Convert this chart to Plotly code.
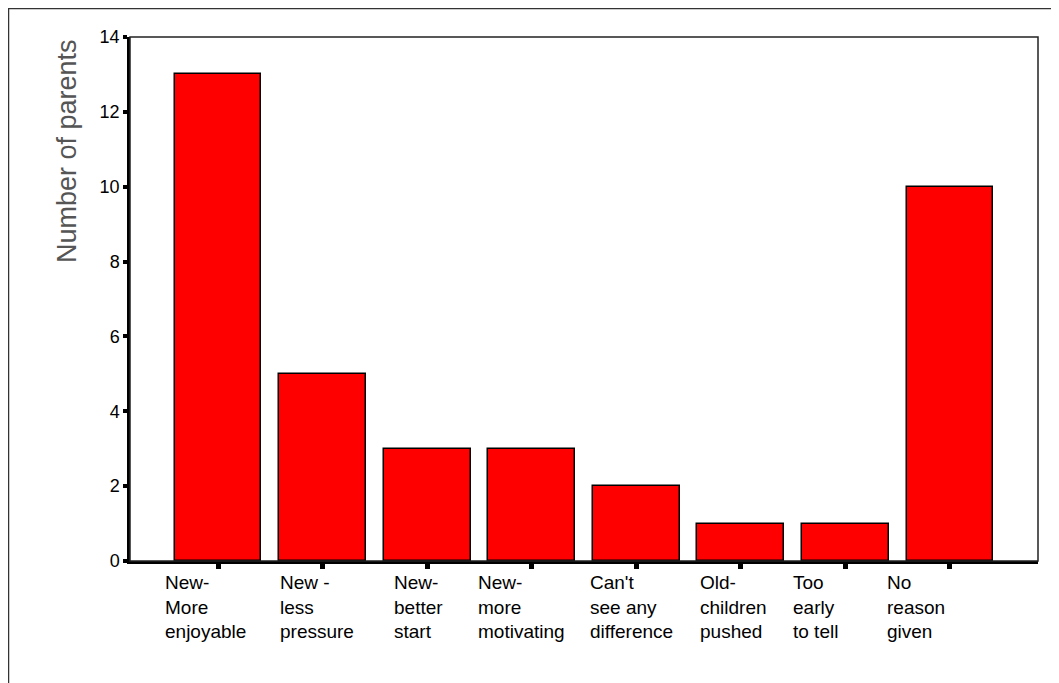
import plotly.graph_objects as go

categories = ["New-<br>More<br>enjoyable", "New -<br>less<br>pressure", "New-<br>better<br>start",
              "New-<br>more<br>motivating", "Can't<br>see any<br>difference", "Old-<br>children<br>pushed",
              "Too<br>early<br>to tell", "No<br>reason<br>given"]
counts = [13, 5, 3, 3, 2, 1, 1, 10]
y_ticks = [0, 2, 4, 6, 8, 10, 12, 14]

label_shift = [-55, -45, -35, -56, -48, -43, -54, -65]

x_idx = list(range(len(categories)))

L, T, PW, PH = 122, 29, 908, 524
W, H = 1059, 683

fig = go.Figure()
fig.add_trace(go.Bar(
    x=x_idx, y=counts, width=0.83,
    marker=dict(color="#FF0000", line=dict(color="black", width=1.5)),
))

for i, lab in enumerate(categories):
    fig.add_annotation(x=i, y=0, xref="x", yref="y", text=lab, showarrow=False,
                       xanchor="left", yanchor="top", align="left",
                       xshift=label_shift[i], yshift=-9,
                       font=dict(family="Arial, Liberation Sans", size=19, color="black"))

fig.add_annotation(x=-63 / PW, y=1, xref="paper", yref="paper", text="Number of parents",
                   showarrow=False, textangle=-90, xanchor="center", yanchor="top",
                   font=dict(family="Arial, Liberation Sans", size=27, color="#555"))

fig.update_layout(
    width=W, height=H,
    margin=dict(l=L, r=W - L - PW, t=T, b=H - T - PH),
    paper_bgcolor="white", plot_bgcolor="white",
    showlegend=False,
    bargap=0,
    font=dict(family="Arial, Liberation Sans", color="black"),
    shapes=[
        dict(type="rect", xref="paper", yref="paper", x0=0, x1=1, y0=0, y1=1,
             line=dict(color="#222", width=1.5)),
        dict(type="rect", xref="paper", yref="paper",
             x0=-(L - 0.5) / PW, x1=1.2, y0=-0.5, y1=1 + (T - 0.5) / PH,
             line=dict(color="#333", width=1.5)),
    ],
)
fig.update_xaxes(range=[-0.842, 7.842], tickvals=x_idx, ticktext=[""] * len(x_idx),
                 ticks="outside", ticklen=5, tickwidth=5, tickcolor="black",
                 showline=True, linecolor="black", linewidth=2.5,
                 showgrid=False, zeroline=False, fixedrange=True)
fig.update_yaxes(range=[0, 14], tickvals=y_ticks,
                 ticks="outside", ticklen=4, tickwidth=4, tickcolor="black",
                 showline=True, linecolor="black", linewidth=2.5,
                 showgrid=False, zeroline=False,
                 tickfont=dict(size=18, color="black"))

fig.write_html("out.html")
